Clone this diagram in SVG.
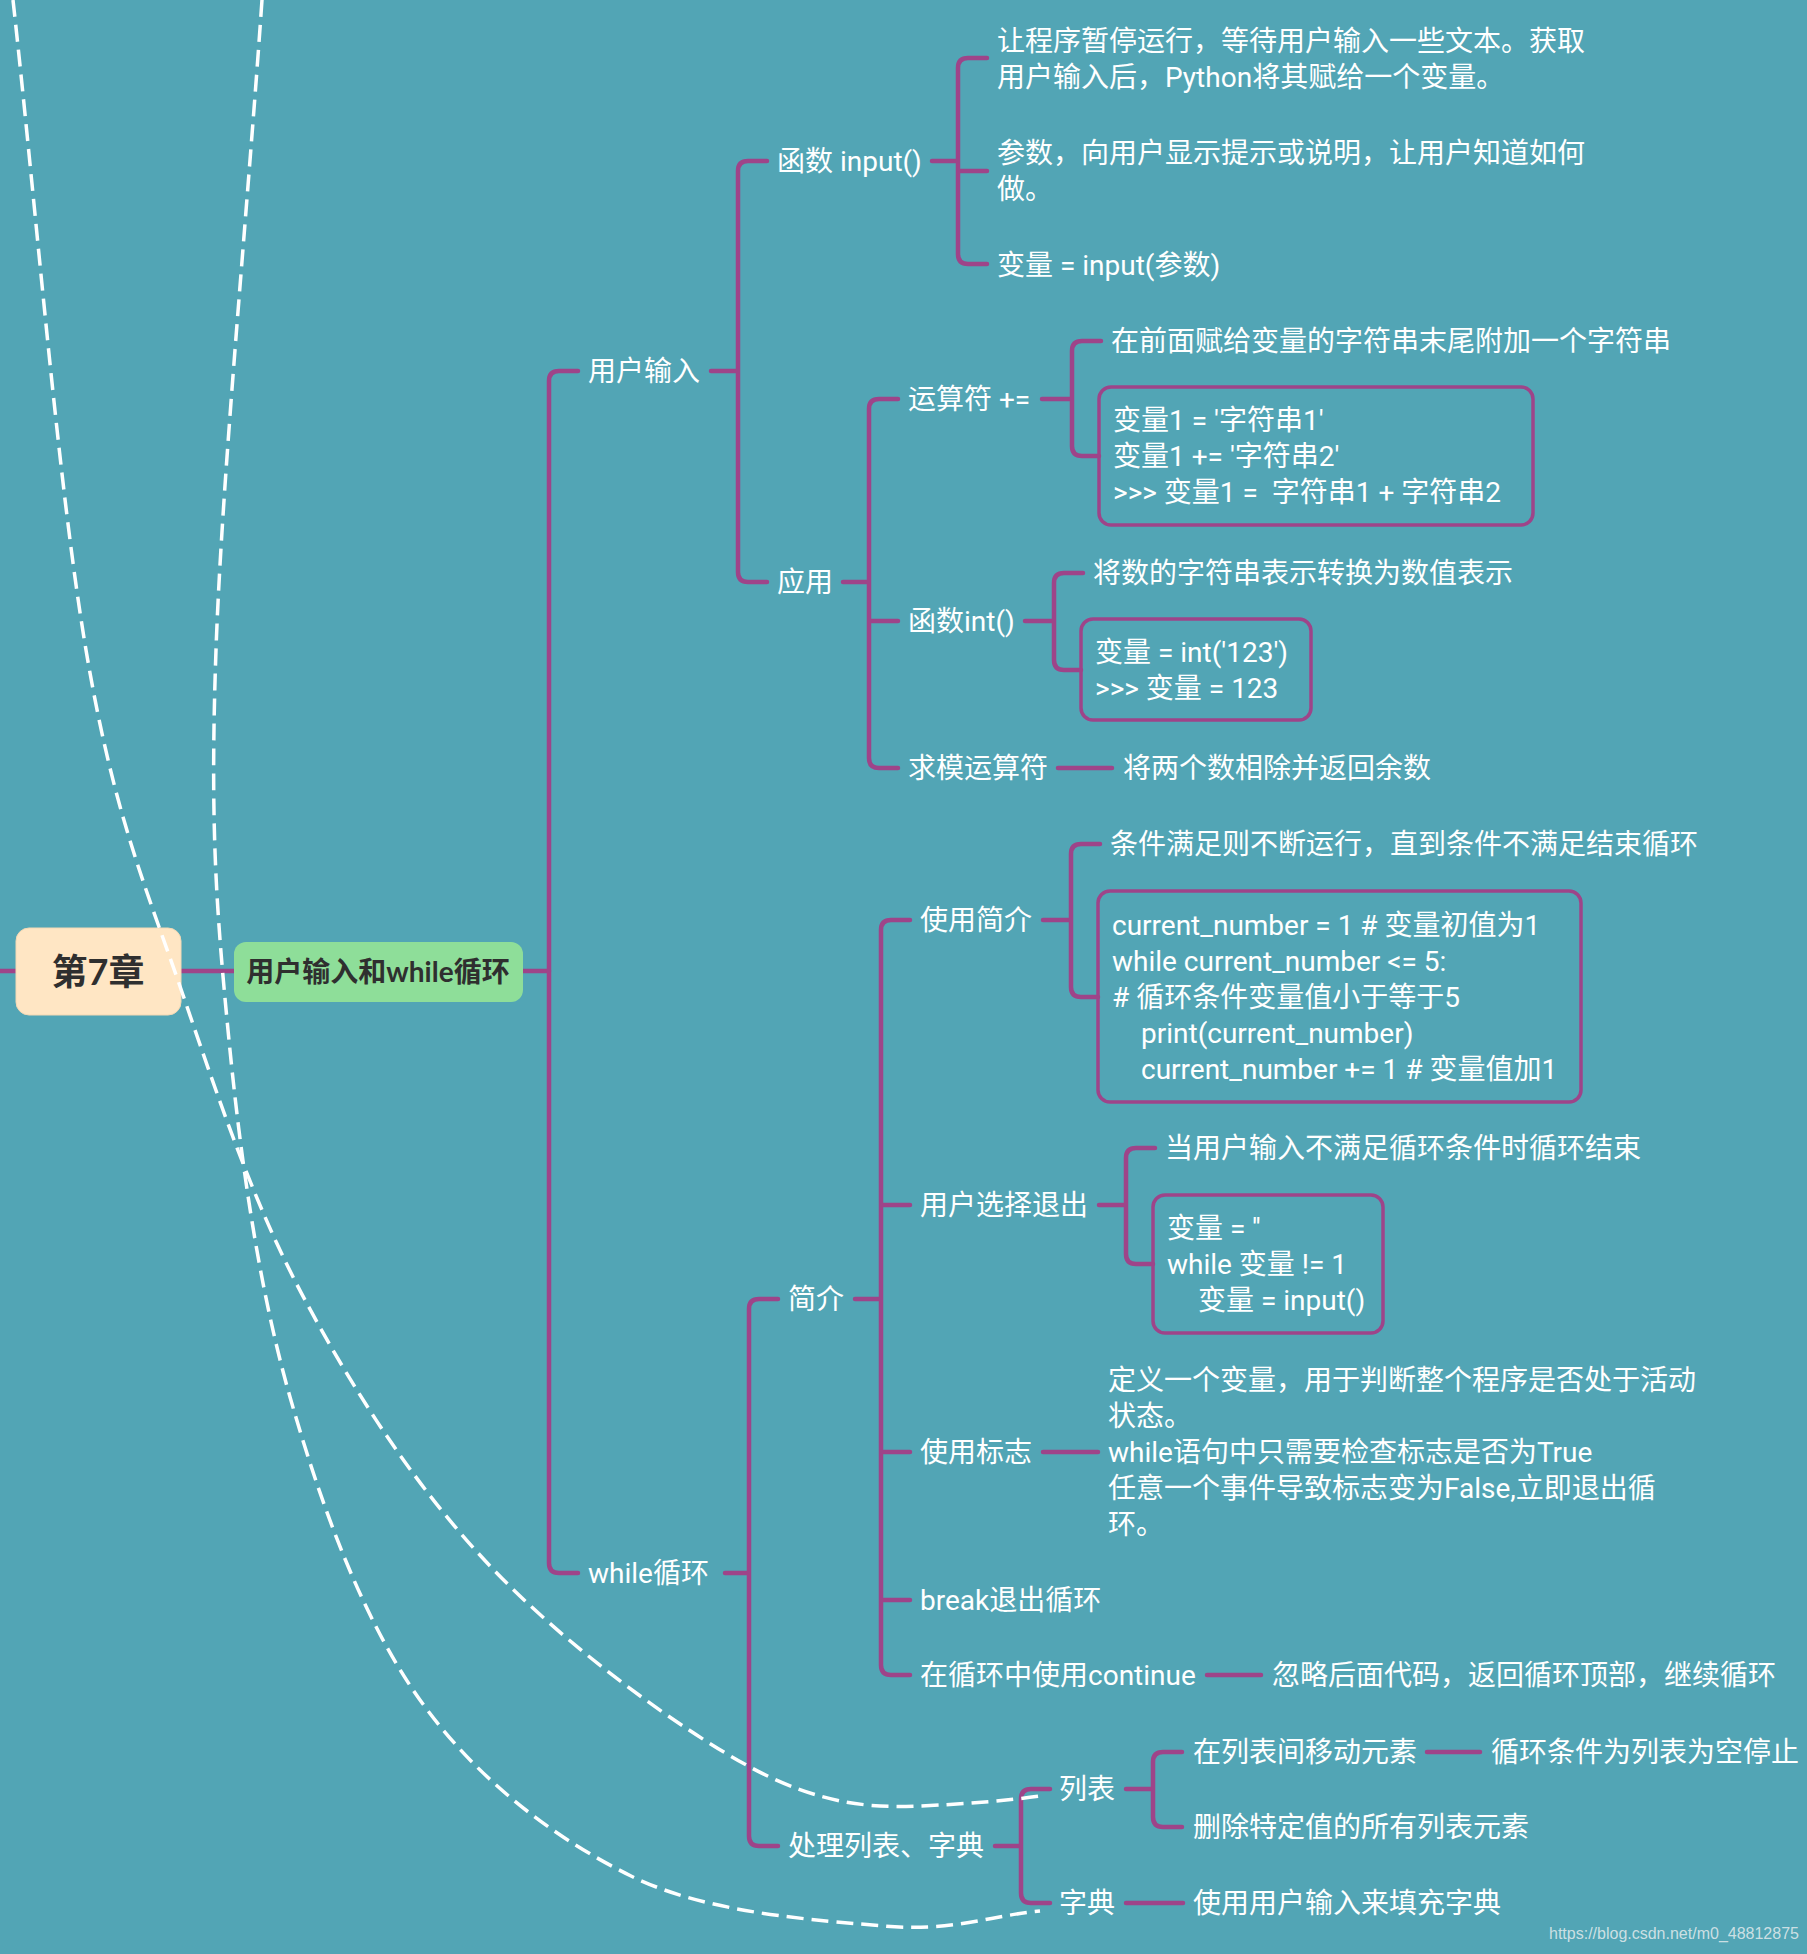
<svg xmlns="http://www.w3.org/2000/svg" width="1807" height="1954" viewBox="0 0 1807 1954">
<style>
.ln{fill:none;stroke:#9E4489;stroke-width:4.5;stroke-linecap:round}
.t{font-family:"Roboto","Noto Sans CJK SC",sans-serif;font-size:28px;fill:#FFFFFF;dominant-baseline:central}
.box{fill:none;stroke:#9E4489;stroke-width:3.5}
.rel{fill:none;stroke:#FFFFFF;stroke-width:3.5;stroke-dasharray:17 8}
.hd{font-family:"Lato","Noto Sans CJK SC",sans-serif;font-weight:bold;fill:#2F2F2F;dominant-baseline:central;text-anchor:middle}
</style>
<rect width="1807" height="1954" fill="#52A5B5"/>
<g id="connectors">
<path class="ln" d="M0,971 H16 M181,971 H234 M523,971 H549"/>
<path class="ln" d="M578,371 H559 Q549,371 549,381 V1563 Q549,1573 559,1573 H578"/>
<path class="ln" d="M711,371 H738 M767,161 H748 Q738,161 738,171 V572 Q738,582 748,582 H767"/>
<path class="ln" d="M932,161 H958 M987,58 H968 Q958,58 958,68 V254 Q958,264 968,264 H987 M958,171 H987"/>
<path class="ln" d="M843,582 H869 M898,399 H879 Q869,399 869,409 V758 Q869,768 879,768 H898 M869,621 H898"/>
<path class="ln" d="M1042,399 H1072 M1101,341 H1082 Q1072,341 1072,351 V446 Q1072,456 1082,456 H1099"/>
<path class="ln" d="M1025,621 H1054 M1083,573 H1064 Q1054,573 1054,583 V660 Q1054,670 1064,670 H1081"/>
<path class="ln" d="M1058,768 H1112"/>
<path class="ln" d="M725,1573 H749 M778,1299 H759 Q749,1299 749,1309 V1836 Q749,1846 759,1846 H778"/>
<path class="ln" d="M855,1299 H881 M910,920 H891 Q881,920 881,930 V1665 Q881,1675 891,1675 H910 M881,1205 H910 M881,1452 H910 M881,1600 H910"/>
<path class="ln" d="M1043,920 H1071 M1100,844 H1081 Q1071,844 1071,854 V987 Q1071,997 1081,997 H1098"/>
<path class="ln" d="M1099,1205 H1126 M1155,1148 H1136 Q1126,1148 1126,1158 V1254 Q1126,1264 1136,1264 H1153"/>
<path class="ln" d="M1043,1452 H1098"/>
<path class="ln" d="M1207,1675 H1261"/>
<path class="ln" d="M995,1846 H1021 M1050,1789 H1031 Q1021,1789 1021,1799 V1893 Q1021,1903 1031,1903 H1050"/>
<path class="ln" d="M1126,1789 H1153 M1182,1752 H1163 Q1153,1752 1153,1762 V1817 Q1153,1827 1163,1827 H1182"/>
<path class="ln" d="M1427,1752 H1480"/>
<path class="ln" d="M1126,1903 H1183"/>
</g>
<g id="root">
<rect x="16" y="928" width="165" height="87" rx="13" fill="#FFE6C4" stroke="#F3D9B5" stroke-width="1"/>
<text class="hd" x="98" y="971" font-size="36">第7章</text>
</g>
<g id="topic">
<rect x="234" y="942" width="289" height="60" rx="12" fill="#8EDE99"/>
<text class="hd" x="378" y="971" font-size="28">用户输入和while循环</text>
</g>
<g id="n-input"><text class="t" x="588" y="371">用户输入</text></g>
<g id="n-while"><text class="t" x="588" y="1573">while循环</text></g>
<g id="n-func-input"><text class="t" x="777" y="161">函数 input()</text></g>
<g id="n-apply"><text class="t" x="777" y="582">应用</text></g>
<g id="n-input-desc1"><text class="t" x="997" y="41">让程序暂停运行，等待用户输入一些文本。获取</text><text class="t" x="997" y="77">用户输入后，Python将其赋给一个变量。</text></g>
<g id="n-input-desc2"><text class="t" x="997" y="153">参数，向用户显示提示或说明，让用户知道如何</text><text class="t" x="997" y="189">做。</text></g>
<g id="n-input-desc3"><text class="t" x="997" y="265">变量 = input(参数)</text></g>
<g id="n-op"><text class="t" x="908" y="399">运算符 +=</text></g>
<g id="n-int"><text class="t" x="908" y="621">函数int()</text></g>
<g id="n-mod"><text class="t" x="908" y="768">求模运算符</text></g>
<g id="n-op-desc"><text class="t" x="1111" y="341">在前面赋给变量的字符串末尾附加一个字符串</text></g>
<g id="n-op-code">
<rect class="box" x="1099" y="387" width="434" height="138" rx="12"/>
<text class="t" x="1113" y="420">变量1 = '字符串1'</text>
<text class="t" x="1113" y="456">变量1 += '字符串2'</text>
<text class="t" x="1113" y="492" xml:space="preserve">&gt;&gt;&gt; 变量1 =  字符串1 + 字符串2</text>
</g>
<g id="n-int-desc"><text class="t" x="1093" y="573">将数的字符串表示转换为数值表示</text></g>
<g id="n-int-code">
<rect class="box" x="1081" y="619" width="230" height="101" rx="12"/>
<text class="t" x="1095" y="652">变量 = int('123')</text>
<text class="t" x="1095" y="688">&gt;&gt;&gt; 变量 = 123</text>
</g>
<g id="n-mod-desc"><text class="t" x="1123" y="768">将两个数相除并返回余数</text></g>
<g id="n-intro"><text class="t" x="788" y="1299">简介</text></g>
<g id="n-list-dict"><text class="t" x="788" y="1846">处理列表、字典</text></g>
<g id="n-use"><text class="t" x="920" y="920">使用简介</text></g>
<g id="n-quit"><text class="t" x="920" y="1205">用户选择退出</text></g>
<g id="n-flag"><text class="t" x="920" y="1452">使用标志</text></g>
<g id="n-break"><text class="t" x="920" y="1600">break退出循环</text></g>
<g id="n-continue"><text class="t" x="920" y="1675">在循环中使用continue</text></g>
<g id="n-use-desc"><text class="t" x="1110" y="844">条件满足则不断运行，直到条件不满足结束循环</text></g>
<g id="n-use-code">
<rect class="box" x="1098" y="891" width="483" height="211" rx="12"/>
<text class="t" x="1112" y="925">current_number = 1 # 变量初值为1</text>
<text class="t" x="1112" y="961">while current_number &lt;= 5:</text>
<text class="t" x="1112" y="997"># 循环条件变量值小于等于5</text>
<text class="t" x="1141" y="1033">print(current_number)</text>
<text class="t" x="1141" y="1069">current_number += 1 # 变量值加1</text>
</g>
<g id="n-quit-desc"><text class="t" x="1165" y="1148">当用户输入不满足循环条件时循环结束</text></g>
<g id="n-quit-code">
<rect class="box" x="1153" y="1195" width="230" height="138" rx="12"/>
<text class="t" x="1167" y="1228">变量 = ''</text>
<text class="t" x="1167" y="1264">while 变量 != 1</text>
<text class="t" x="1198" y="1300">变量 = input()</text>
</g>
<g id="n-flag-desc">
<text class="t" x="1108" y="1380">定义一个变量，用于判断整个程序是否处于活动</text>
<text class="t" x="1108" y="1416">状态。</text>
<text class="t" x="1108" y="1452">while语句中只需要检查标志是否为True</text>
<text class="t" x="1108" y="1488">任意一个事件导致标志变为False,立即退出循</text>
<text class="t" x="1108" y="1524">环。</text>
</g>
<g id="n-continue-desc"><text class="t" x="1272" y="1675">忽略后面代码，返回循环顶部，继续循环</text></g>
<g id="n-list"><text class="t" x="1059" y="1789">列表</text></g>
<g id="n-dict"><text class="t" x="1059" y="1903">字典</text></g>
<g id="n-list-move"><text class="t" x="1193" y="1752">在列表间移动元素</text></g>
<g id="n-list-del"><text class="t" x="1193" y="1827">删除特定值的所有列表元素</text></g>
<g id="n-list-move-desc"><text class="t" x="1491" y="1752">循环条件为列表为空停止</text></g>
<g id="n-dict-desc"><text class="t" x="1193" y="1903">使用用户输入来填充字典</text></g>
<g id="relationships">
<path class="rel" d="M13,0 C37,217 58,484 86,650 C114,816 146,887 183,995 C220,1103 254,1205 305,1300 C356,1395 417,1489 491,1567 C565,1645 676,1727 750,1767 C822,1806 875,1808 920,1806 C965,1804 1005,1801 1040,1796"/>
<path class="rel" d="M262,0 C247,217 222,478 216,650 C210,822 216,906 228,1030 C240,1155 258,1285 290,1397 C322,1509 363,1620 420,1700 C477,1780 554,1838 631,1876 C708,1914 816,1920 884,1926 C952,1932 988,1916 1040,1911"/>
</g>
<text x="1549" y="1933" font-family="Liberation Sans, Arial, sans-serif" font-size="16" fill="#DCE7EA" fill-opacity="0.9" dominant-baseline="central">https://blog.csdn.net/m0_48812875</text>
</svg>
